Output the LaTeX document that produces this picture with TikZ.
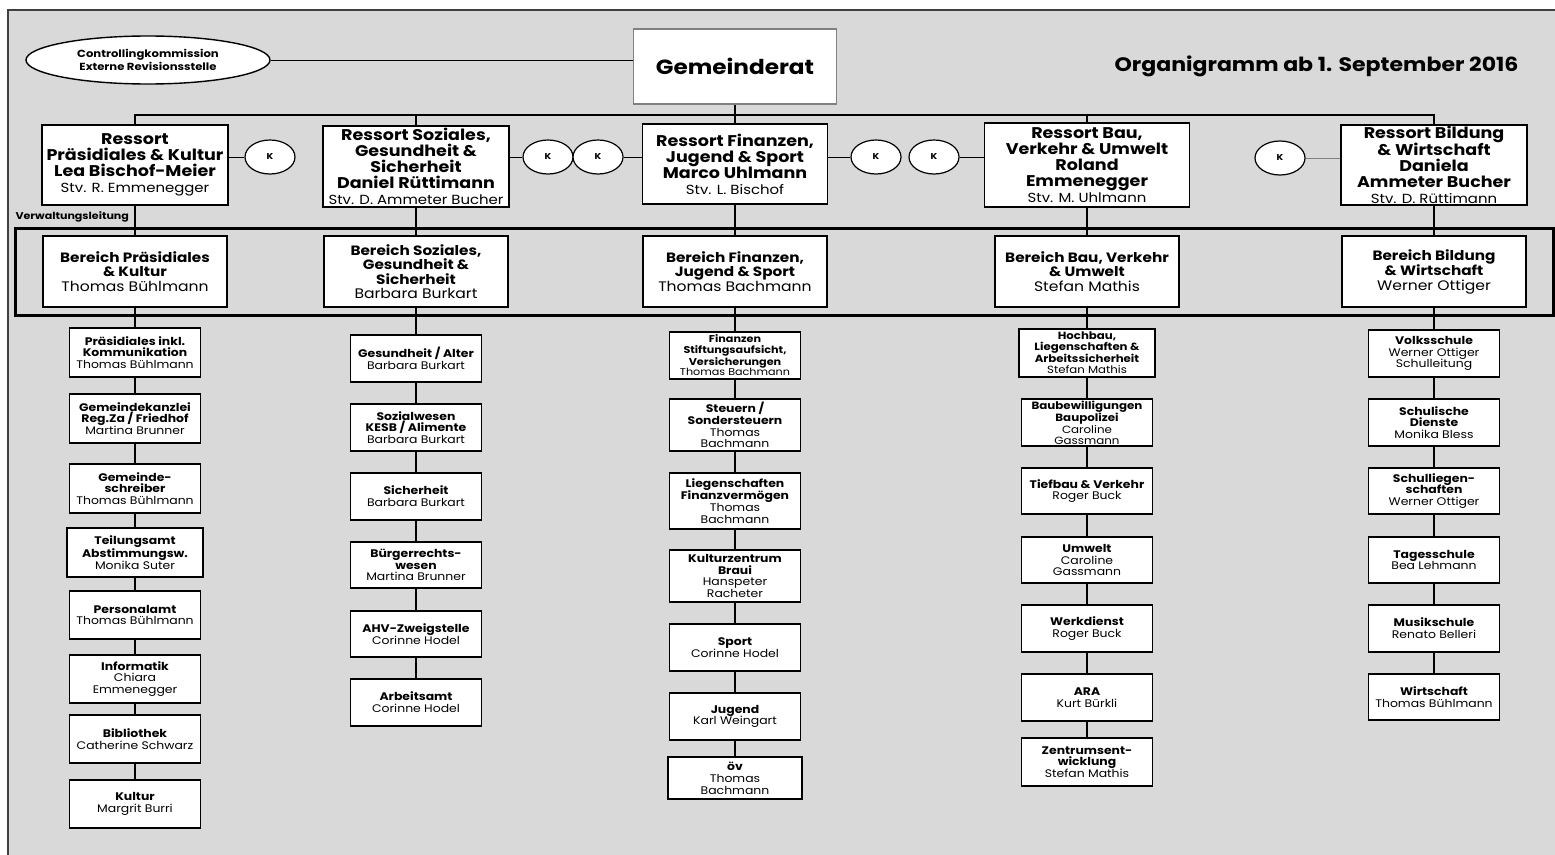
\documentclass[tikz,border=0pt]{standalone}
\usepackage{fontspec}
\setmainfont{Poppins}[FakeStretch=1.13]
\usetikzlibrary{shapes.geometric}
\definecolor{grauH}{HTML}{D9D9D9}
\definecolor{rahmenG}{HTML}{404040}
\definecolor{linieG}{HTML}{808080}
\newcommand{\nm}[1]{{\mdseries #1}}
\newcommand{\stv}[1]{{\mdseries\fontsize{13.2}{16}\selectfont #1}}
\newcommand{\bnm}[1]{{\mdseries\fontsize{13.8}{14.5}\selectfont #1}}
\tikzset{
  ressortbox/.style={draw, line width=1.5pt, fill=white, align=center, inner sep=0pt,
    font=\fontsize{15.5}{16}\selectfont\bfseries},
  bereichbox/.style={draw, line width=1.6pt, fill=white, align=center, inner sep=1pt,
    minimum width=184pt, minimum height=71pt, font=\fontsize{13.5}{14.5}\selectfont\bfseries},
  unterbox/.style={draw, line width=1.5pt, fill=white, align=center, inner sep=1pt,
    minimum width=131pt, font=\fontsize{11}{11.8}\selectfont\bfseries},
  kbox/.style={ellipse, draw, line width=1.2pt, fill=white, inner sep=0pt,
    minimum width=50pt, minimum height=34pt, font=\fontsize{8.5}{9}\selectfont\bfseries},
  verb/.style={line width=1.8pt},
  bus/.style={line width=2.6pt},
  duenn/.style={line width=0.9pt},
}
\begin{document}
\begin{tikzpicture}[x=1pt, y=-1pt]
  \useasboundingbox (0,0) rectangle (1555,854);
  \fill[white] (0,0) rectangle (1555,854);
  \draw[rahmenG, fill=grauH, line width=1.6pt] (8,10) rectangle (1575,875);   % Hintergrund
  \draw[line width=3pt] (15,228) rectangle (1553,315);                          % Verwaltungsleitung

  % Kopf
  \node[draw=linieG, line width=1.5pt, fill=white, minimum width=203pt, minimum height=75pt,
    font=\fontsize{20.5}{22}\selectfont\bfseries] (gemeinderat) at (735,66.5) {Gemeinderat};
  \node[ellipse, draw, line width=1.4pt, fill=white, minimum width=244pt, minimum height=48pt,
    inner sep=0pt, align=center, font=\fontsize{10.3}{13.5}\selectfont\bfseries]
    (kontroll) at (148,60) {Controllingkommission\\Externe Revisionsstelle};
  \node[anchor=east, font=\fontsize{19.5}{22}\selectfont\bfseries] (titel) at (1522,66)
    {Organigramm ab 1. September 2016};
  \coordinate (busy) at (0,115);

  % Ressorts
  \node[ressortbox, minimum width=186pt, minimum height=80pt] (ressPraes) at (135,165)
    {Ressort\\Präsidiales \& Kultur\\Lea Bischof-Meier\\\stv{Stv. R. Emmenegger}};
  \node[ressortbox, minimum width=186pt, minimum height=81pt] (ressSoz) at (416,166.5)
    {Ressort Soziales,\\Gesundheit \&\\Sicherheit\\Daniel Rüttimann\\\stv{Stv. D. Ammeter Bucher}};
  \node[ressortbox, minimum width=185pt, minimum height=80pt] (ressFin) at (735,164)
    {Ressort Finanzen,\\Jugend \& Sport\\Marco Uhlmann\\\stv{Stv. L. Bischof}};
  \node[ressortbox, minimum width=205pt, minimum height=84pt] (ressBau) at (1087,165)
    {Ressort Bau,\\Verkehr \& Umwelt\\Roland\\Emmenegger\\\stv{Stv. M. Uhlmann}};
  \node[ressortbox, minimum width=186pt, minimum height=80pt] (ressBild) at (1434,165)
    {Ressort Bildung\\\& Wirtschaft\\Daniela\\Ammeter Bucher\\\stv{Stv. D. Rüttimann}};

  % Kommissionen
  \node[kbox] (kPraes) at (270,157) {K};
  \node[kbox] (kSozA) at (548,157) {K};
  \node[kbox] (kSozB) at (598,157) {K};
  \node[kbox] (kBauA) at (876,157) {K};
  \node[kbox] (kBauB) at (934,157) {K};
  \node[kbox] (kBild) at (1280,158) {K};

  \node[anchor=west, font=\fontsize{9.8}{11}\selectfont\bfseries] (vwl) at (12,217) {Verwaltungsleitung};

  % Bereiche
  \node[bereichbox] (berPraes) at (135,271.5) {Bereich Präsidiales\\\& Kultur\\\bnm{Thomas Bühlmann}};
  \node[bereichbox] (berSoz) at (416,271.5) {Bereich Soziales,\\Gesundheit \&\\Sicherheit\\\bnm{Barbara Burkart}};
  \node[bereichbox] (berFin) at (735,271.5) {Bereich Finanzen,\\Jugend \& Sport\\\bnm{Thomas Bachmann}};
  \node[bereichbox] (berBau) at (1087,271.5) {Bereich Bau, Verkehr\\\& Umwelt\\\bnm{Stefan Mathis}};
  \node[bereichbox] (berBild) at (1434,271.5) {Bereich Bildung\\\& Wirtschaft\\\bnm{Werner Ottiger}};

  % Praesidiales
  \node[unterbox, minimum height=49pt] (praesKomm) at (135,352.5) {Präsidiales inkl.\\Kommunikation\\\nm{Thomas Bühlmann}};
  \node[unterbox, minimum height=49pt] (kanzlei) at (135,418.5) {Gemeindekanzlei\\Reg.Za / Friedhof\\\nm{Martina Brunner}};
  \node[unterbox, minimum height=49pt] (schreiber) at (135,488.5) {Gemeinde-\\schreiber\\\nm{Thomas Bühlmann}};
  \node[unterbox, minimum height=49pt, minimum width=136pt] (teilung) at (135,552.5) {Teilungsamt\\Abstimmungsw.\\\nm{Monika Suter}};
  \node[unterbox, minimum height=48pt] (personal) at (135,615) {Personalamt\\\nm{Thomas Bühlmann}};
  \node[unterbox, minimum height=48pt] (informatik) at (135,679) {Informatik\\\nm{Chiara}\\\nm{Emmenegger}};
  \node[unterbox, minimum height=48pt] (biblio) at (135,739) {Bibliothek\\\nm{Catherine Schwarz}};
  \node[unterbox, minimum height=48pt] (kultur) at (135,804) {Kultur\\\nm{Margrit Burri}};

  % Soziales
  \node[unterbox, minimum height=47pt] (gesundheit) at (416,358.5) {Gesundheit / Alter\\\nm{Barbara Burkart}};
  \node[unterbox, minimum height=47pt] (sozialwesen) at (416,427.5) {Sozialwesen\\KESB / Alimente\\\nm{Barbara Burkart}};
  \node[unterbox, minimum height=47pt] (sicherheit) at (416,496.5) {Sicherheit\\\nm{Barbara Burkart}};
  \node[unterbox, minimum height=46pt] (buerger) at (416,565) {Bürgerrechts-\\wesen\\\nm{Martina Brunner}};
  \node[unterbox, minimum height=46pt] (ahv) at (416,634) {AHV-Zweigstelle\\\nm{Corinne Hodel}};
  \node[unterbox, minimum height=47pt] (arbeit) at (416,702.5) {Arbeitsamt\\\nm{Corinne Hodel}};

  % Finanzen
  \node[unterbox, minimum height=47pt, font=\fontsize{9.9}{10.6}\selectfont\bfseries] (finanzen) at (735,355.5)
    {Finanzen\\Stiftungsaufsicht,\\Versicherungen\\\nm{Thomas Bachmann}};
  \node[unterbox, minimum height=52pt] (steuern) at (735,425) {Steuern /\\Sondersteuern\\\nm{Thomas}\\\nm{Bachmann}};
  \node[unterbox, minimum height=56pt] (liegensch) at (735,501) {Liegenschaften\\Finanzvermögen\\\nm{Thomas}\\\nm{Bachmann}};
  \node[unterbox, minimum height=52pt] (kulturz) at (735,576) {Kulturzentrum\\Braui\\\nm{Hanspeter}\\\nm{Racheter}};
  \node[unterbox, minimum height=47pt] (sport) at (735,647.5) {Sport\\\nm{Corinne Hodel}};
  \node[unterbox, minimum height=47pt] (jugend) at (735,716.5) {Jugend\\\nm{Karl Weingart}};
  \node[unterbox, minimum height=42pt, minimum width=134pt] (oev) at (735,778) {öv\\\nm{Thomas}\\\nm{Bachmann}};

  % Bau
  \node[unterbox, minimum height=48pt, minimum width=136pt, font=\fontsize{10.4}{11}\selectfont\bfseries] (hochbau) at (1087,353)
    {Hochbau,\\Liegenschaften \&\\Arbeitssicherheit\\\nm{Stefan Mathis}};
  \node[unterbox, minimum height=47pt, font=\fontsize{10.5}{10.7}\selectfont\bfseries] (baubew) at (1087,422.5)
    {Baubewilligungen\\Baupolizei\\\nm{Caroline}\\\nm{Gassmann}};
  \node[unterbox, minimum height=46pt] (tiefbau) at (1087,491) {Tiefbau \& Verkehr\\\nm{Roger Buck}};
  \node[unterbox, minimum height=46pt] (umwelt) at (1087,560) {Umwelt\\\nm{Caroline}\\\nm{Gassmann}};
  \node[unterbox, minimum height=47pt] (werkdienst) at (1087,628.5) {Werkdienst\\\nm{Roger Buck}};
  \node[unterbox, minimum height=47pt] (ara) at (1087,697.5) {ARA\\\nm{Kurt Bürkli}};
  \node[unterbox, minimum height=48pt] (zentrum) at (1087,762) {Zentrumsent-\\wicklung\\\nm{Stefan Mathis}};

  % Bildung
  \node[unterbox, minimum height=47pt] (volksschule) at (1434,353.5) {Volksschule\\\nm{Werner Ottiger}\\\nm{Schulleitung}};
  \node[unterbox, minimum height=47pt] (dienste) at (1434,422.5) {Schulische\\Dienste\\\nm{Monika Bless}};
  \node[unterbox, minimum height=46pt] (schulliegen) at (1434,491) {Schulliegen-\\schaften\\\nm{Werner Ottiger}};
  \node[unterbox, minimum height=46pt] (tagesschule) at (1434,560) {Tagesschule\\\nm{Bea Lehmann}};
  \node[unterbox, minimum height=47pt] (musikschule) at (1434,628.5) {Musikschule\\\nm{Renato Belleri}};
  \node[unterbox, minimum height=46pt] (wirtschaft) at (1434,697) {Wirtschaft\\\nm{Thomas Bühlmann}};

  % Linien
  \draw[duenn] (kontroll.east) -- (kontroll.east -| gemeinderat.west);
  \draw[bus] (gemeinderat.south) -- (gemeinderat.south |- busy);
  \draw[bus] (ressPraes.north) -- (ressPraes.north |- busy) -| (ressBild.north);
  \foreach \r in {ressSoz, ressFin, ressBau}
    \draw[verb] (\r.north) -- (\r.north |- busy);
  \draw[duenn] (ressPraes.east |- kPraes) -- (kPraes);
  \draw[duenn] (ressSoz.east |- kSozA) -- (kSozA);
  \draw[duenn] (kSozB) -- (kSozB -| ressFin.west);
  \draw[duenn] (ressFin.east |- kBauA) -- (kBauA);
  \draw[duenn] (kBauB) -- (kBauB -| ressBau.west);
  \draw[duenn, linieG] (kBild) -- (kBild -| ressBild.west);
  \foreach \a/\b in {ressPraes/berPraes, berPraes/praesKomm, praesKomm/kanzlei, kanzlei/schreiber,
      schreiber/teilung, teilung/personal, personal/informatik, informatik/biblio, biblio/kultur,
      ressSoz/berSoz, berSoz/gesundheit, gesundheit/sozialwesen, sozialwesen/sicherheit,
      sicherheit/buerger, buerger/ahv, ahv/arbeit,
      ressFin/berFin, berFin/finanzen, finanzen/steuern, steuern/liegensch, liegensch/kulturz,
      kulturz/sport, sport/jugend, jugend/oev,
      ressBau/berBau, berBau/hochbau, hochbau/baubew, baubew/tiefbau, tiefbau/umwelt,
      umwelt/werkdienst, werkdienst/ara, ara/zentrum,
      ressBild/berBild, berBild/volksschule, volksschule/dienste, dienste/schulliegen,
      schulliegen/tagesschule, tagesschule/musikschule, musikschule/wirtschaft}
    \draw[verb] (\a) -- (\b);
\end{tikzpicture}
\end{document}
